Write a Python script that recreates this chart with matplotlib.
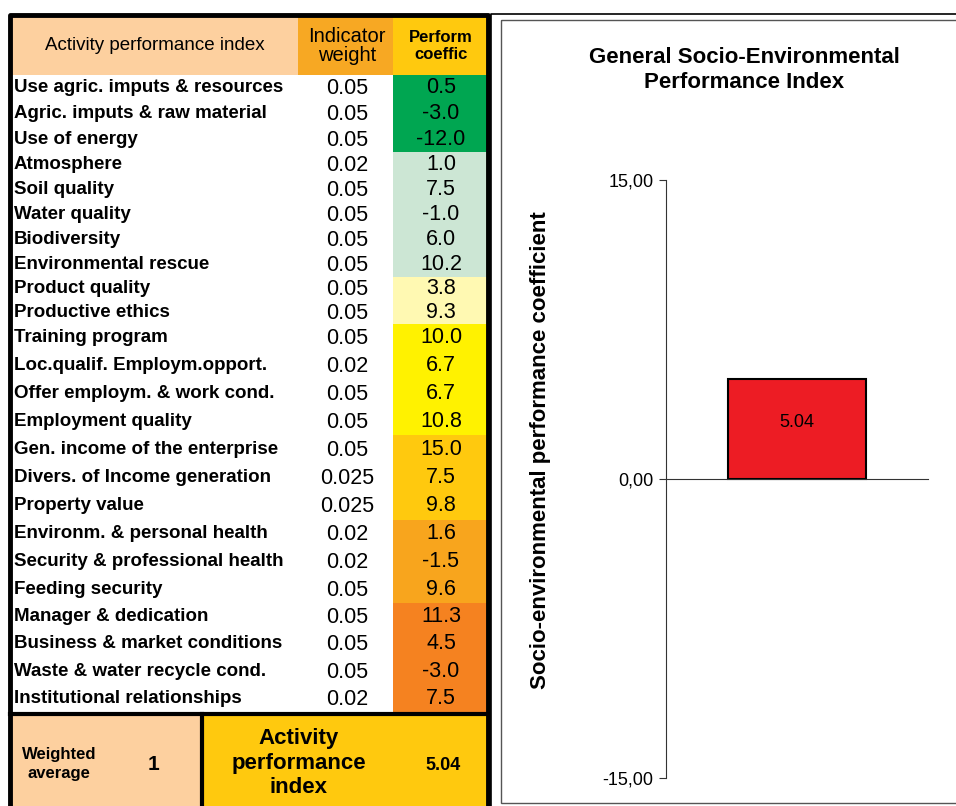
import matplotlib.pyplot as plt
from matplotlib.patches import Rectangle

plt.rcParams['font.family'] = ['Liberation Sans', 'DejaVu Sans']

# table data
indicators = ["Use agric. imputs & resources", "Agric. imputs & raw material", "Use of energy",
              "Atmosphere", "Soil quality", "Water quality", "Biodiversity", "Environmental rescue",
              "Product quality", "Productive ethics",
              "Training program", "Loc.qualif. Employm.opport.", "Offer employm. & work cond.",
              "Employment quality",
              "Gen. income of the enterprise", "Divers. of Income generation", "Property value",
              "Environm. & personal health", "Security & professional health", "Feeding security",
              "Manager & dedication", "Business & market conditions", "Waste & water recycle cond.",
              "Institutional relationships"]
weights = ["0.05", "0.05", "0.05", "0.02", "0.05", "0.05", "0.05", "0.05", "0.05", "0.05",
           "0.05", "0.02", "0.05", "0.05", "0.05", "0.025", "0.025", "0.02", "0.02", "0.05",
           "0.05", "0.05", "0.05", "0.02"]
coeffs = [0.5, -3.0, -12.0, 1.0, 7.5, -1.0, 6.0, 10.2, 3.8, 9.3, 10.0, 6.7, 6.7, 10.8,
          15.0, 7.5, 9.8, 1.6, -1.5, 9.6, 11.3, 4.5, -3.0, 7.5]
group_sizes = [3, 5, 2, 4, 3, 3, 4]
group_colors = ["#00A651", "#CCE6D4", "#FFF9B2", "#FFF200", "#FFC90E", "#F8A51D", "#F58220"]
weight_total = 1
index_value = 5.04

# chart data
chart_labels = ["Activity"]
chart_values = [5.04]

fig = plt.figure(figsize=(9.56, 8.06), dpi=100)
bg = fig.add_axes([0, 0, 1, 1])
bg.set_xlim(0, 956)
bg.set_ylim(806, 0)
bg.axis('off')

# header
bg.add_patch(Rectangle((10, 15), 288, 60, color="#FDD09F", lw=0))
bg.add_patch(Rectangle((298, 15), 95, 60, color="#F7A823", lw=0))
bg.add_patch(Rectangle((393, 15), 95, 60, color="#FFC90E", lw=0))
bg.text(155, 46, "Activity performance index", ha='center', va='center', fontsize=13.5)
bg.text(347, 46, "Indicator\nweight", ha='center', va='center', fontsize=14.5, linespacing=1.05)
bg.text(441, 46, "Perform\ncoeffic", ha='center', va='center', fontsize=12,
        fontweight='bold', linespacing=1.15)

# body rows, group by group
group_edges = [75, 152, 277, 324, 435, 520, 603, 712]
i = 0
for g, n in enumerate(group_sizes):
    top, bot = group_edges[g], group_edges[g + 1]
    h = (bot - top) / n
    bg.add_patch(Rectangle((393, top), 95, bot - top, color=group_colors[g], lw=0))
    for k in range(n):
        yc = top + h * (k + 0.5)
        bg.text(14, yc, indicators[i], ha='left', va='center', fontsize=13.5, fontweight='bold')
        bg.text(347, yc + 1, weights[i], ha='center', va='center', fontsize=15.5)
        bg.text(441, yc, f"{coeffs[i]:.1f}", ha='center', va='center', fontsize=15.5)
        i += 1

# bottom summary
bg.add_patch(Rectangle((10, 714), 192, 92, color="#FDD09F", lw=0))
bg.add_patch(Rectangle((202, 714), 286, 92, color="#FFC90E", lw=0))
bg.plot([10, 488], [714, 714], color='black', lw=3)
bg.plot([202, 202], [714, 806], color='black', lw=3)
bg.text(59, 764, "Weighted\naverage", ha='center', va='center', fontsize=12,
        fontweight='bold', linespacing=1.4)
bg.text(154, 765, str(weight_total), ha='center', va='center', fontsize=15, fontweight='bold')
bg.text(299, 763, "Activity\nperformance\nindex", ha='center', va='center', fontsize=16,
        fontweight='bold', linespacing=1.2)
bg.text(443, 765, f"{index_value:.2f}", ha='center', va='center', fontsize=13, fontweight='bold')

# table border
bg.plot([10, 10, 488, 488], [806, 15, 15, 806], color='black', lw=3.5)

# right panel frames
bg.plot([491, 491, 956], [806, 14, 14], color='black', lw=1.2)
bg.add_patch(Rectangle((501, 20), 470, 783, fill=False, ec='#555555', lw=1))

bg.text(744, 70, "General Socio-Environmental\nPerformance Index", ha='center', va='center',
        fontsize=16, fontweight='bold', linespacing=1.25)
bg.text(541, 450, "Socio-environmental performance coefficient", ha='center', va='center',
        rotation=90, fontsize=16, fontweight='bold')

# bar chart
ax = fig.add_axes([666 / 956, 1 - 778 / 806, 262 / 956, 598 / 806])
ax.set_facecolor('none')
ax.bar([0.5], chart_values, width=0.527, color="#ED1C24", edgecolor='black', linewidth=1.5)
ax.text(0.5, chart_values[0] / 2 + 0.3, f"{chart_values[0]:.2f}", ha='center', va='center',
        fontsize=13)
ax.set_xlim(0, 1)
ax.set_ylim(-15, 15)
ax.set_yticks([-15, 0, 15])
ax.set_yticklabels(["-15,00", "0,00", "15,00"], fontsize=13)
ax.set_xticks([])
ax.spines['top'].set_visible(False)
ax.spines['right'].set_visible(False)
ax.spines['bottom'].set_position(('data', 0))
ax.spines['bottom'].set_color('#333333')
ax.spines['left'].set_color('#333333')
ax.tick_params(axis='y', length=5, color='#333333', pad=4)

fig.savefig("out.png", dpi=100)
